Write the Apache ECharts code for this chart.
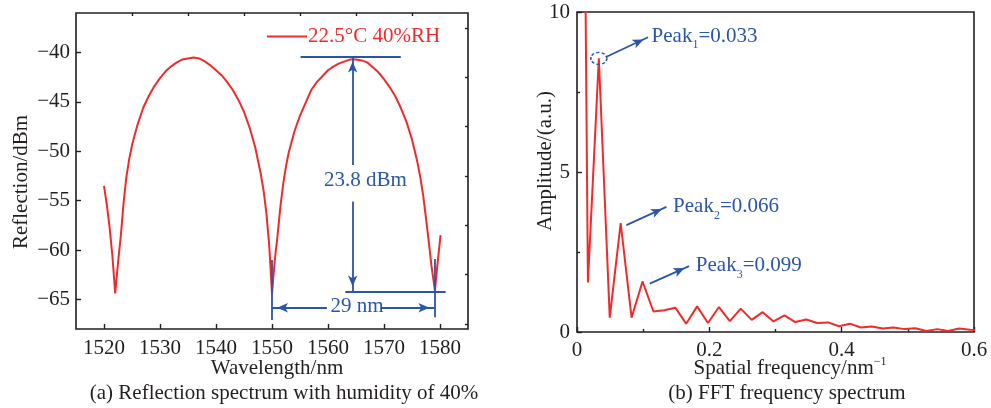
<!DOCTYPE html>
<html>
<head>
<meta charset="utf-8">
<script src="https://cdn.jsdelivr.net/npm/echarts@6/dist/echarts.min.js"></script>
<style>
  html, body { margin: 0; padding: 0; background: #fff; }
  #chart { width: 991px; height: 408px; }
</style>
</head>
<body>
<div id="chart"></div>
<script>
// ---- (a) reflection spectrum, 22.5 °C / 40 %RH ----
const wavelength = [
  1520.0, 1520.5, 1521.0, 1521.5, 1522.0, 1522.5, 1523.0, 1523.5, 1524.0, 1524.5,
  1525.0, 1525.5, 1526.0, 1527.0, 1528.0, 1529.0, 1530.0, 1531.0, 1532.0, 1533.0,
  1534.0, 1535.0, 1536.0, 1537.0, 1538.0, 1539.0, 1540.0, 1541.0, 1542.0, 1543.0,
  1544.0, 1545.0, 1546.0, 1547.0, 1548.0, 1548.5, 1549.0, 1549.5, 1550.0, 1550.5,
  1551.0, 1551.5, 1552.0, 1552.5, 1553.0, 1554.0, 1555.0, 1556.0, 1557.0, 1558.0,
  1559.0, 1560.0, 1561.0, 1562.0, 1563.0, 1564.0, 1565.0, 1566.0, 1567.0, 1568.0,
  1569.0, 1570.0, 1571.0, 1572.0, 1573.0, 1574.0, 1575.0, 1576.0, 1576.5, 1577.0,
  1577.5, 1578.0, 1578.5, 1579.1, 1579.5, 1580.1
];
const reflection = [
  -53.5, -55.4, -57.7, -60.6, -64.4, -61.3, -58.6, -55.2, -52.6, -50.8,
  -49.4, -48.3, -47.3, -45.6, -44.4, -43.4, -42.6, -41.9, -41.4, -41.0,
  -40.7, -40.6, -40.5, -40.6, -40.9, -41.3, -41.8, -42.3, -43.0, -43.8,
  -44.8, -46.0, -47.6, -49.6, -52.3, -54.0, -56.3, -59.5, -64.4, -61.0,
  -58.5, -55.6, -53.3, -51.5, -50.1, -48.0, -46.4, -45.1, -43.8, -43.0,
  -42.4, -41.8, -41.4, -41.1, -40.9, -40.7, -40.7, -40.8, -41.0, -41.5,
  -42.0, -42.7, -43.5, -44.4, -45.6, -47.0, -48.8, -51.2, -52.7, -54.5,
  -56.8, -59.2, -61.7, -64.1, -61.7, -58.5
];
const seriesNameA = '22.5°C 40%RH';

// axis ticks of panel (a)
const wlTicks = [1520, 1530, 1540, 1550, 1560, 1570, 1580];
const wlTickLabels = ['1520', '1530', '1540', '1550', '1560', '1570', '1580'];
const wlMinorTicks = [1525, 1535, 1545, 1555, 1565, 1575];
const dbTicks = [-65, -60, -55, -50, -45, -40];
const dbTickLabels = ['\u221265', '\u221260', '\u221255', '\u221250', '\u221245', '\u221240'];
const dbMinorTicks = [-67.5, -62.5, -57.5, -52.5, -47.5, -42.5, -37.5];

// marked quantities of panel (a)
const peakLevel = -40.4;      // dBm, upper reference line
const dipDepth = 23.8;        // dBm, peak-to-dip depth
const dipA = 1550;            // nm
const dipB = 1579;            // nm
const fsr = dipB - dipA;      // 29 nm

// ---- (b) FFT frequency spectrum ----
const spatialFreq = [
  0, 0.0165, 0.033, 0.0495, 0.066, 0.0825, 0.099, 0.1155, 0.132, 0.1485,
  0.165, 0.1815, 0.198, 0.2145, 0.231, 0.2475, 0.264, 0.2805, 0.297, 0.3135,
  0.33, 0.3465, 0.363, 0.3795, 0.396, 0.4125, 0.429, 0.4455, 0.462, 0.4785,
  0.495, 0.5115, 0.528, 0.5445, 0.561, 0.5775, 0.594, 0.6105
];
const amplitude = [
  42, 1.55, 8.55, 0.45, 3.4, 0.45, 1.58, 0.64, 0.68, 0.76,
  0.26, 0.80, 0.28, 0.78, 0.34, 0.73, 0.38, 0.62, 0.33, 0.52,
  0.31, 0.39, 0.28, 0.30, 0.18, 0.26, 0.14, 0.17, 0.11, 0.14,
  0.09, 0.12, 0.03, 0.09, 0.03, 0.11, 0.07, 0.06
];
const peakFreqs = [0.033, 0.066, 0.099];
const freqTickLabels = ['0', '0.2', '0.4', '0.6'];

const RED = '#ef2b2b';
const BLUE = '#2b55a6';
const INK = '#231f20';
const SERIF = '"Liberation Serif", "DejaVu Serif", "Times New Roman", serif';
const FS = 21;

const pairs = (xs, ys) => xs.map((x, i) => [x, ys[i]]);
const ampAt = f => amplitude[spatialFreq.indexOf(f)];

const tickLabel = { color: INK, fontSize: FS, fontFamily: SERIF };

// arrows (start, end) in data units of panel (b)
const peakArrows = [
  [[0.0454, 8.61], [0.1074, 9.21]],
  [[0.0747, 3.34], [0.1352, 3.91]],
  [[0.110, 1.51], [0.1694, 2.06]]
];
const peakLabelAt = [[0.112, 9.24], [0.1445, 3.91], [0.1788, 2.08]];

const arrowEnd = { symbol: 'arrow', symbolSize: [7, 11], symbolOffset: [0, 5] };
const seg = (a, b, arrow) => [
  { coord: a, symbol: 'none' },
  arrow ? Object.assign({ coord: b }, arrowEnd) : { coord: b, symbol: 'none' }
];

const textMark = (coord, text) => ({
  coord: coord,
  symbol: 'circle',
  symbolSize: 1,
  itemStyle: { color: 'rgba(0,0,0,0)' },
  label: {
    show: true, position: 'inside', formatter: text,
    color: BLUE, fontSize: FS, fontFamily: SERIF
  }
});

const dipLine = peakLevel - dipDepth;
const midWl = 1564.4;

const axisText = (x, y, text, rot) => ({
  type: 'text', x: x, y: y, rotation: rot || 0,
  style: { text: text, fill: INK, font: FS + 'px ' + SERIF, textAlign: 'center', textVerticalAlign: 'middle' }
});

const option = {
  animation: false,
  backgroundColor: '#fff',
  textStyle: { fontFamily: SERIF },
  legend: {
    left: 262, top: 21,
    itemWidth: 40, itemHeight: 2,
    icon: 'rect',
    itemStyle: { color: RED },
    data: [seriesNameA],
    textStyle: { color: RED, fontSize: FS, fontFamily: SERIF, padding: [0, 0, 0, -4] },
    selectedMode: false
  },
  grid: [
    { left: 76, top: 13, width: 392, height: 316, show: true, borderColor: INK, borderWidth: 1.6, backgroundColor: 'transparent' },
    { left: 577, top: 12, width: 397, height: 320, show: true, borderColor: INK, borderWidth: 1.6, backgroundColor: 'transparent' }
  ],
  xAxis: [
    {
      type: 'value', gridIndex: 0, min: 1515, max: 1585,
      axisLine: { show: false }, splitLine: { show: false },
      axisTick: { inside: true, length: 5, customValues: wlTicks, lineStyle: { color: INK, width: 1.4 } },
      axisLabel: Object.assign({
        customValues: wlTicks, margin: 9,
        formatter: (v) => wlTickLabels[wlTicks.indexOf(v)]
      }, tickLabel)
    },
    {
      type: 'value', gridIndex: 0, min: 1515, max: 1585,
      axisLine: { show: false }, splitLine: { show: false },
      axisTick: { inside: true, length: 3, customValues: wlMinorTicks, lineStyle: { color: INK, width: 1.4 } },
      axisLabel: { show: false }
    },
    {
      type: 'value', gridIndex: 1, min: 0, max: 0.6, interval: 0.2,
      axisLine: { show: false }, splitLine: { show: false },
      axisTick: { inside: true, length: 5, lineStyle: { color: INK, width: 1.4 } },
      minorTick: { show: true, splitNumber: 2, length: 3, lineStyle: { color: INK, width: 1.4 } },
      axisLabel: Object.assign({ margin: 8, formatter: (v) => freqTickLabels[Math.round(v / 0.2)] }, tickLabel)
    }
  ],
  yAxis: [
    {
      type: 'value', gridIndex: 0, min: -68, max: -36,
      axisLine: { show: false }, splitLine: { show: false },
      axisTick: { inside: true, length: 5, customValues: dbTicks, lineStyle: { color: INK, width: 1.4 } },
      axisLabel: Object.assign({
        customValues: dbTicks, margin: 6,
        formatter: (v) => dbTickLabels[dbTicks.indexOf(v)]
      }, tickLabel)
    },
    {
      type: 'value', gridIndex: 0, min: -68, max: -36,
      axisLine: { show: false }, splitLine: { show: false },
      axisTick: { inside: true, length: 3, customValues: dbMinorTicks, lineStyle: { color: INK, width: 1.4 } },
      axisLabel: { show: false }
    },
    {
      type: 'value', gridIndex: 1, min: 0, max: 10, interval: 5,
      axisLine: { show: false }, splitLine: { show: false },
      axisTick: { inside: true, length: 5, lineStyle: { color: INK, width: 1.4 } },
      minorTick: { show: true, splitNumber: 2, length: 3, lineStyle: { color: INK, width: 1.4 } },
      axisLabel: Object.assign({ margin: 7 }, tickLabel)
    }
  ],
  series: [
    {
      name: seriesNameA,
      type: 'line', xAxisIndex: 0, yAxisIndex: 0,
      data: pairs(wavelength, reflection),
      symbol: 'none',
      lineStyle: { color: RED, width: 2 },
      itemStyle: { color: RED },
      markLine: {
        silent: true,
        symbol: ['none', 'none'],
        label: { show: false },
        lineStyle: { color: BLUE, width: 1.8, type: 'solid' },
        emphasis: { disabled: true },
        data: [
          seg([1555.1, peakLevel], [1573.0, peakLevel], false),
          seg([1563.1, dipLine], [1581.0, dipLine], false),
          seg([midWl, -51.4], [midWl, peakLevel], true),
          seg([midWl, -55.1], [midWl, dipLine], true),
          seg([dipA, -61.0], [dipA, -67.1], false),
          seg([dipB, -60.9], [dipB, -66.8], false),
          seg([1559.8, -65.85], [dipA, -65.85], true),
          seg([1569.4, -65.85], [dipB, -65.85], true)
        ]
      },
      markPoint: {
        silent: true,
        data: [
          textMark([1566.7, -52.95], dipDepth.toFixed(1) + ' dBm'),
          textMark([1565.2, -65.75], fsr + ' nm')
        ]
      }
    },
    {
      name: 'FFT',
      type: 'line', xAxisIndex: 2, yAxisIndex: 2,
      data: pairs(spatialFreq, amplitude),
      symbol: 'none',
      clip: true,
      lineStyle: { color: RED, width: 2 },
      itemStyle: { color: RED },
      markLine: {
        silent: true,
        symbol: ['none', 'none'],
        label: { show: false },
        lineStyle: { color: BLUE, width: 1.8, type: 'solid' },
        emphasis: { disabled: true },
        data: peakArrows.map(a => seg(a[0], a[1], true))
      },
      markPoint: {
        silent: true,
        data: [
          {
            coord: [peakFreqs[0], ampAt(peakFreqs[0])],
            symbol: 'circle', symbolSize: [16, 12],
            itemStyle: { color: 'rgba(0,0,0,0)', borderColor: BLUE, borderWidth: 1.5, borderType: [3, 2] },
            label: { show: false }
          }
        ].concat(peakFreqs.map((f, i) => ({
          coord: peakLabelAt[i],
          symbol: 'circle', symbolSize: 1,
          itemStyle: { color: 'rgba(0,0,0,0)' },
          label: {
            show: true, position: 'right', distance: 0,
            formatter: '{m|Peak}{s|' + (i + 1) + '}{m|=' + f.toFixed(3) + '}',
            rich: {
              m: { color: BLUE, fontSize: FS, lineHeight: 30, fontFamily: SERIF },
              s: { color: BLUE, fontSize: 12, lineHeight: 13, verticalAlign: 'bottom', fontFamily: SERIF }
            }
          }
        })))
      }
    }
  ],
  graphic: [
    axisText(21, 182, 'Reflection/dBm', Math.PI / 2),
    axisText(277, 368, 'Wavelength/nm'),
    axisText(284, 393, '(a) Reflection spectrum with humidity of 40%'),
    axisText(545, 161, 'Amplitude/(a.u.)', Math.PI / 2),
    {
      type: 'text', x: 790, y: 368,
      style: {
        text: '{m|Spatial frequency/nm}{p|\u22121}',
        rich: {
          m: { fill: INK, fontSize: FS, lineHeight: 24, fontFamily: SERIF },
          p: { fill: INK, fontSize: 12, lineHeight: 13, verticalAlign: 'top', fontFamily: SERIF }
        },
        textAlign: 'center', textVerticalAlign: 'middle'
      }
    },
    axisText(787, 393, '(b) FFT frequency spectrum')
  ]
};

const chart = echarts.init(document.getElementById('chart'), null, { renderer: 'canvas' });
chart.setOption(option);
</script>
</body>
</html>
